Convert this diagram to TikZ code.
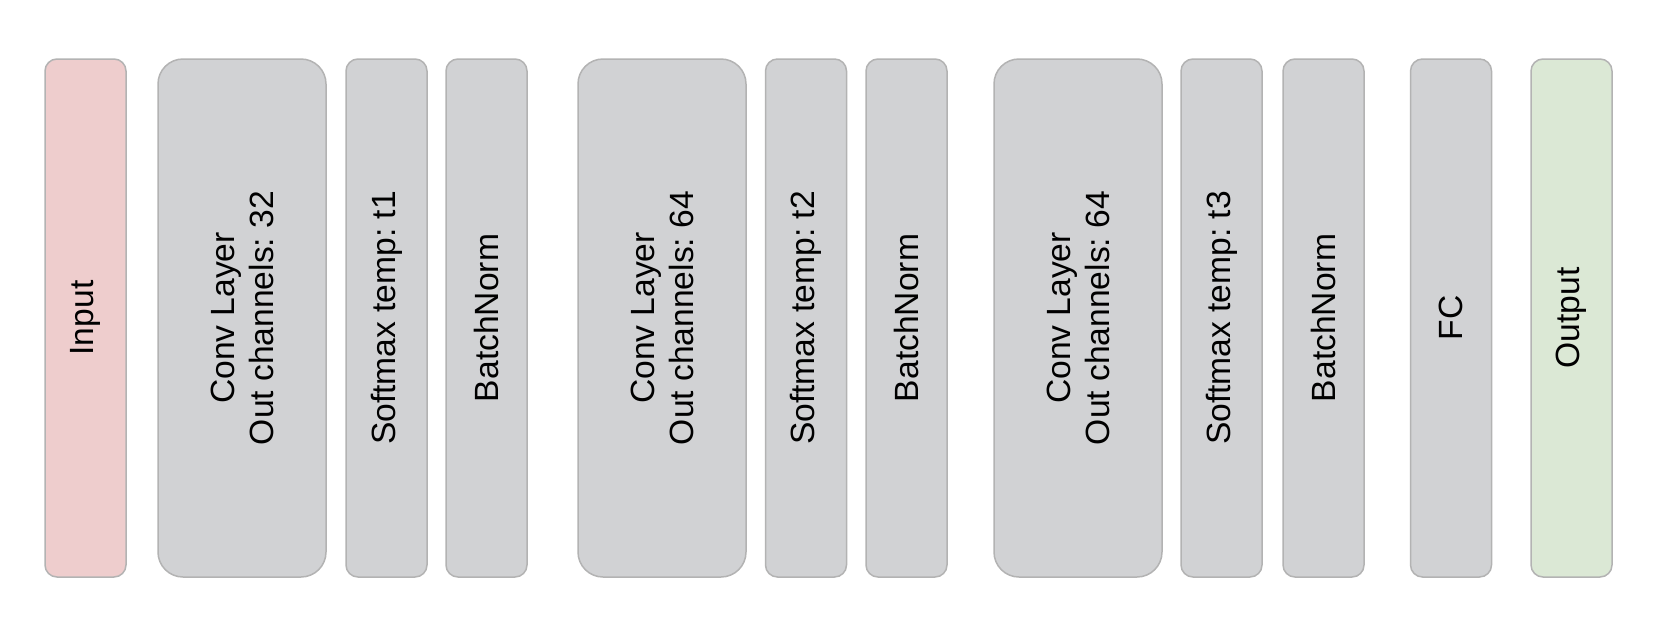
\documentclass[tikz,border=0pt]{standalone}
\usepackage{fontspec}
\setmainfont{Liberation Sans}
\frenchspacing
\definecolor{grayfill}{HTML}{D1D2D4}
\definecolor{pinkfill}{HTML}{EECDCD}
\definecolor{greenfill}{HTML}{DBE8D5}
\definecolor{strokegray}{HTML}{B3B3B3}
\tikzset{
  layer/.style={draw=strokegray, line width=1.5pt, fill=grayfill, rounded corners=12pt,
    minimum width=81pt, minimum height=518pt, inner sep=0pt, outer sep=0pt},
  convlayer/.style={layer, minimum width=168pt, rounded corners=25pt},
  lbl/.style={rotate=90, font=\fontsize{33.6pt}{39pt}\selectfont\frenchspacing, align=center, inner sep=0pt}
}
\begin{document}
\begin{tikzpicture}[x=1pt,y=-1pt]
\useasboundingbox[fill=white] (0,0) rectangle (1654,635);
\node[layer, fill=pinkfill] (input) at (85.5,318) {};
\node[convlayer] (conv1) at (242,318) {};
\node[layer] (sm1) at (386.5,318) {};
\node[layer] (bn1) at (486.5,318) {};
\node[convlayer] (conv2) at (662,318) {};
\node[layer] (sm2) at (806,318) {};
\node[layer] (bn2) at (906.5,318) {};
\node[convlayer] (conv3) at (1078,318) {};
\node[layer] (sm3) at (1221.5,318) {};
\node[layer] (bn3) at (1323.5,318) {};
\node[layer] (fc) at (1451,318) {};
\node[layer, fill=greenfill] (output) at (1571.5,318) {};
\node[lbl] at (input.center) {Input};
\node[lbl] at (conv1.center) {Conv Layer\\Out channels: 32};
\node[lbl] at (sm1.center) {Softmax temp: t1};
\node[lbl] at (bn1.center) {BatchNorm};
\node[lbl] at (conv2.center) {Conv Layer\\Out channels: 64};
\node[lbl] at (sm2.center) {Softmax temp: t2};
\node[lbl] at (bn2.center) {BatchNorm};
\node[lbl] at (conv3.center) {Conv Layer\\Out channels: 64};
\node[lbl] at (sm3.center) {Softmax temp: t3};
\node[lbl] at (bn3.center) {BatchNorm};
\node[lbl] at (fc.center) {FC};
\node[lbl] at (output.center) {Output};
\end{tikzpicture}
\end{document}
